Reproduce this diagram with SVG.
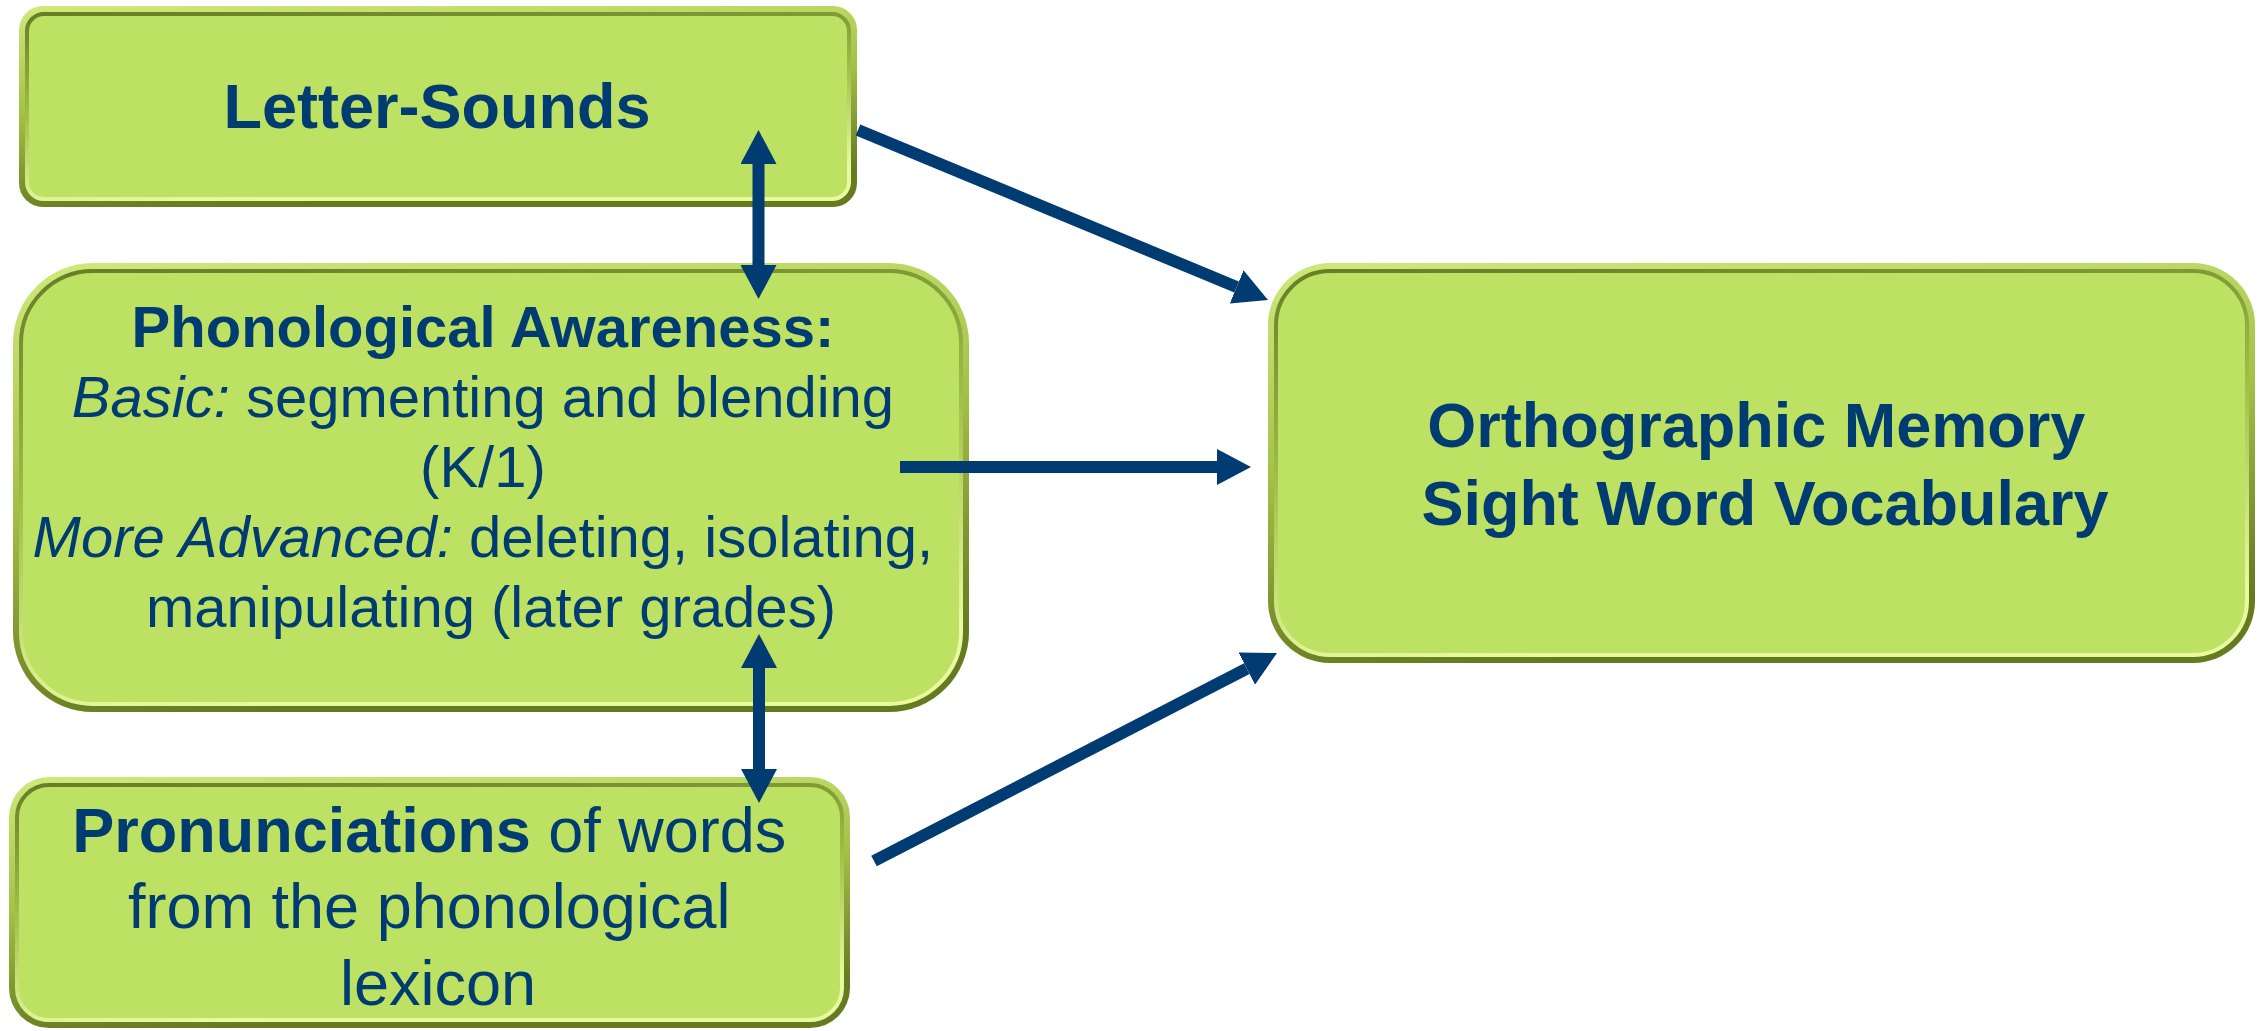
<svg xmlns="http://www.w3.org/2000/svg" width="2262" height="1031" viewBox="0 0 2262 1031">
  <defs>
    <style>
      .rim { fill: url(#rim); }
      .face { fill: #BDE162; stroke: url(#groove); stroke-width: 4; }
      .t { font-family: "Liberation Sans", Arial, sans-serif; fill: #003B71; text-anchor: middle; }
      .b { font-weight: bold; }
      .i { font-style: italic; }
      .link { stroke: #003B71; stroke-width: 12; fill: none; marker-end: url(#head); }
      .both { marker-start: url(#head); }
    </style>
    <!-- outer bevel rim: light top-left, dark bottom-right -->
    <linearGradient id="rim" x1="0" y1="0" x2="0.25" y2="1">
      <stop offset="0" stop-color="#CDEA7C"/>
      <stop offset="0.5" stop-color="#A4C246"/>
      <stop offset="1" stop-color="#667A20"/>
    </linearGradient>
    <!-- inner groove line: dark top-left, light bottom-right -->
    <linearGradient id="groove" x1="0" y1="0" x2="0.25" y2="1">
      <stop offset="0" stop-color="#687C25"/>
      <stop offset="0.5" stop-color="#9FBD48"/>
      <stop offset="1" stop-color="#E8F9A0"/>
    </linearGradient>
    <marker id="head" markerUnits="userSpaceOnUse" markerWidth="34" markerHeight="36" refX="0" refY="18" orient="auto-start-reverse">
      <path d="M0,0 L34,18 L0,36 Z" fill="#003B71"/>
    </marker>
  </defs>

  <!-- Letter-Sounds -->
  <g id="letter-sounds">
    <rect class="rim" x="19" y="6" width="838" height="201" rx="24"/>
    <rect class="face" x="27" y="14" width="822" height="185" rx="17"/>
    <text class="t b" x="437" y="128" font-size="63">Letter-Sounds</text>
  </g>

  <!-- Phonological Awareness -->
  <g id="phonological-awareness">
    <rect class="rim" x="13" y="263" width="956" height="449" rx="80"/>
    <rect class="face" x="21" y="271" width="940" height="433" rx="72"/>
    <text class="t" font-size="58">
      <tspan class="b" x="491" y="347">Phonological Awareness:</tspan>
      <tspan x="491" y="417"><tspan class="i">Basic:</tspan> segmenting and blending</tspan>
      <tspan x="491" y="487">(K/1)</tspan>
      <tspan x="491" y="557"><tspan class="i">More Advanced:</tspan> deleting, isolating,</tspan>
      <tspan x="491" y="627">manipulating (later grades)</tspan>
    </text>
  </g>

  <!-- Pronunciations -->
  <g id="pronunciations">
    <rect class="rim" x="9" y="777" width="841" height="251" rx="40"/>
    <rect class="face" x="17" y="785" width="825" height="235" rx="32"/>
    <text class="t" font-size="63">
      <tspan x="438" y="852"><tspan class="b">Pronunciations</tspan> of words</tspan>
      <tspan x="438" y="928">from the phonological</tspan>
      <tspan x="438" y="1005">lexicon</tspan>
    </text>
  </g>

  <!-- Orthographic Memory -->
  <g id="orthographic-memory">
    <rect class="rim" x="1268" y="263" width="987" height="400" rx="62"/>
    <rect class="face" x="1276" y="271" width="971" height="384" rx="54"/>
    <text class="t b" font-size="63">
      <tspan x="1765" y="447">Orthographic Memory</tspan>
      <tspan x="1765" y="525">Sight Word Vocabulary</tspan>
    </text>
  </g>

  <!-- connectors -->
  <g id="connectors">
    <line class="link" x1="858" y1="130" x2="1236.6" y2="287"/>
    <line class="link" x1="900" y1="467" x2="1217" y2="467"/>
    <line class="link" x1="874" y1="861" x2="1246.8" y2="668.6"/>
    <line class="link both" x1="758.5" y1="164" x2="758.5" y2="265"/>
    <line class="link both" x1="759" y1="668" x2="759" y2="769"/>
  </g>
</svg>
